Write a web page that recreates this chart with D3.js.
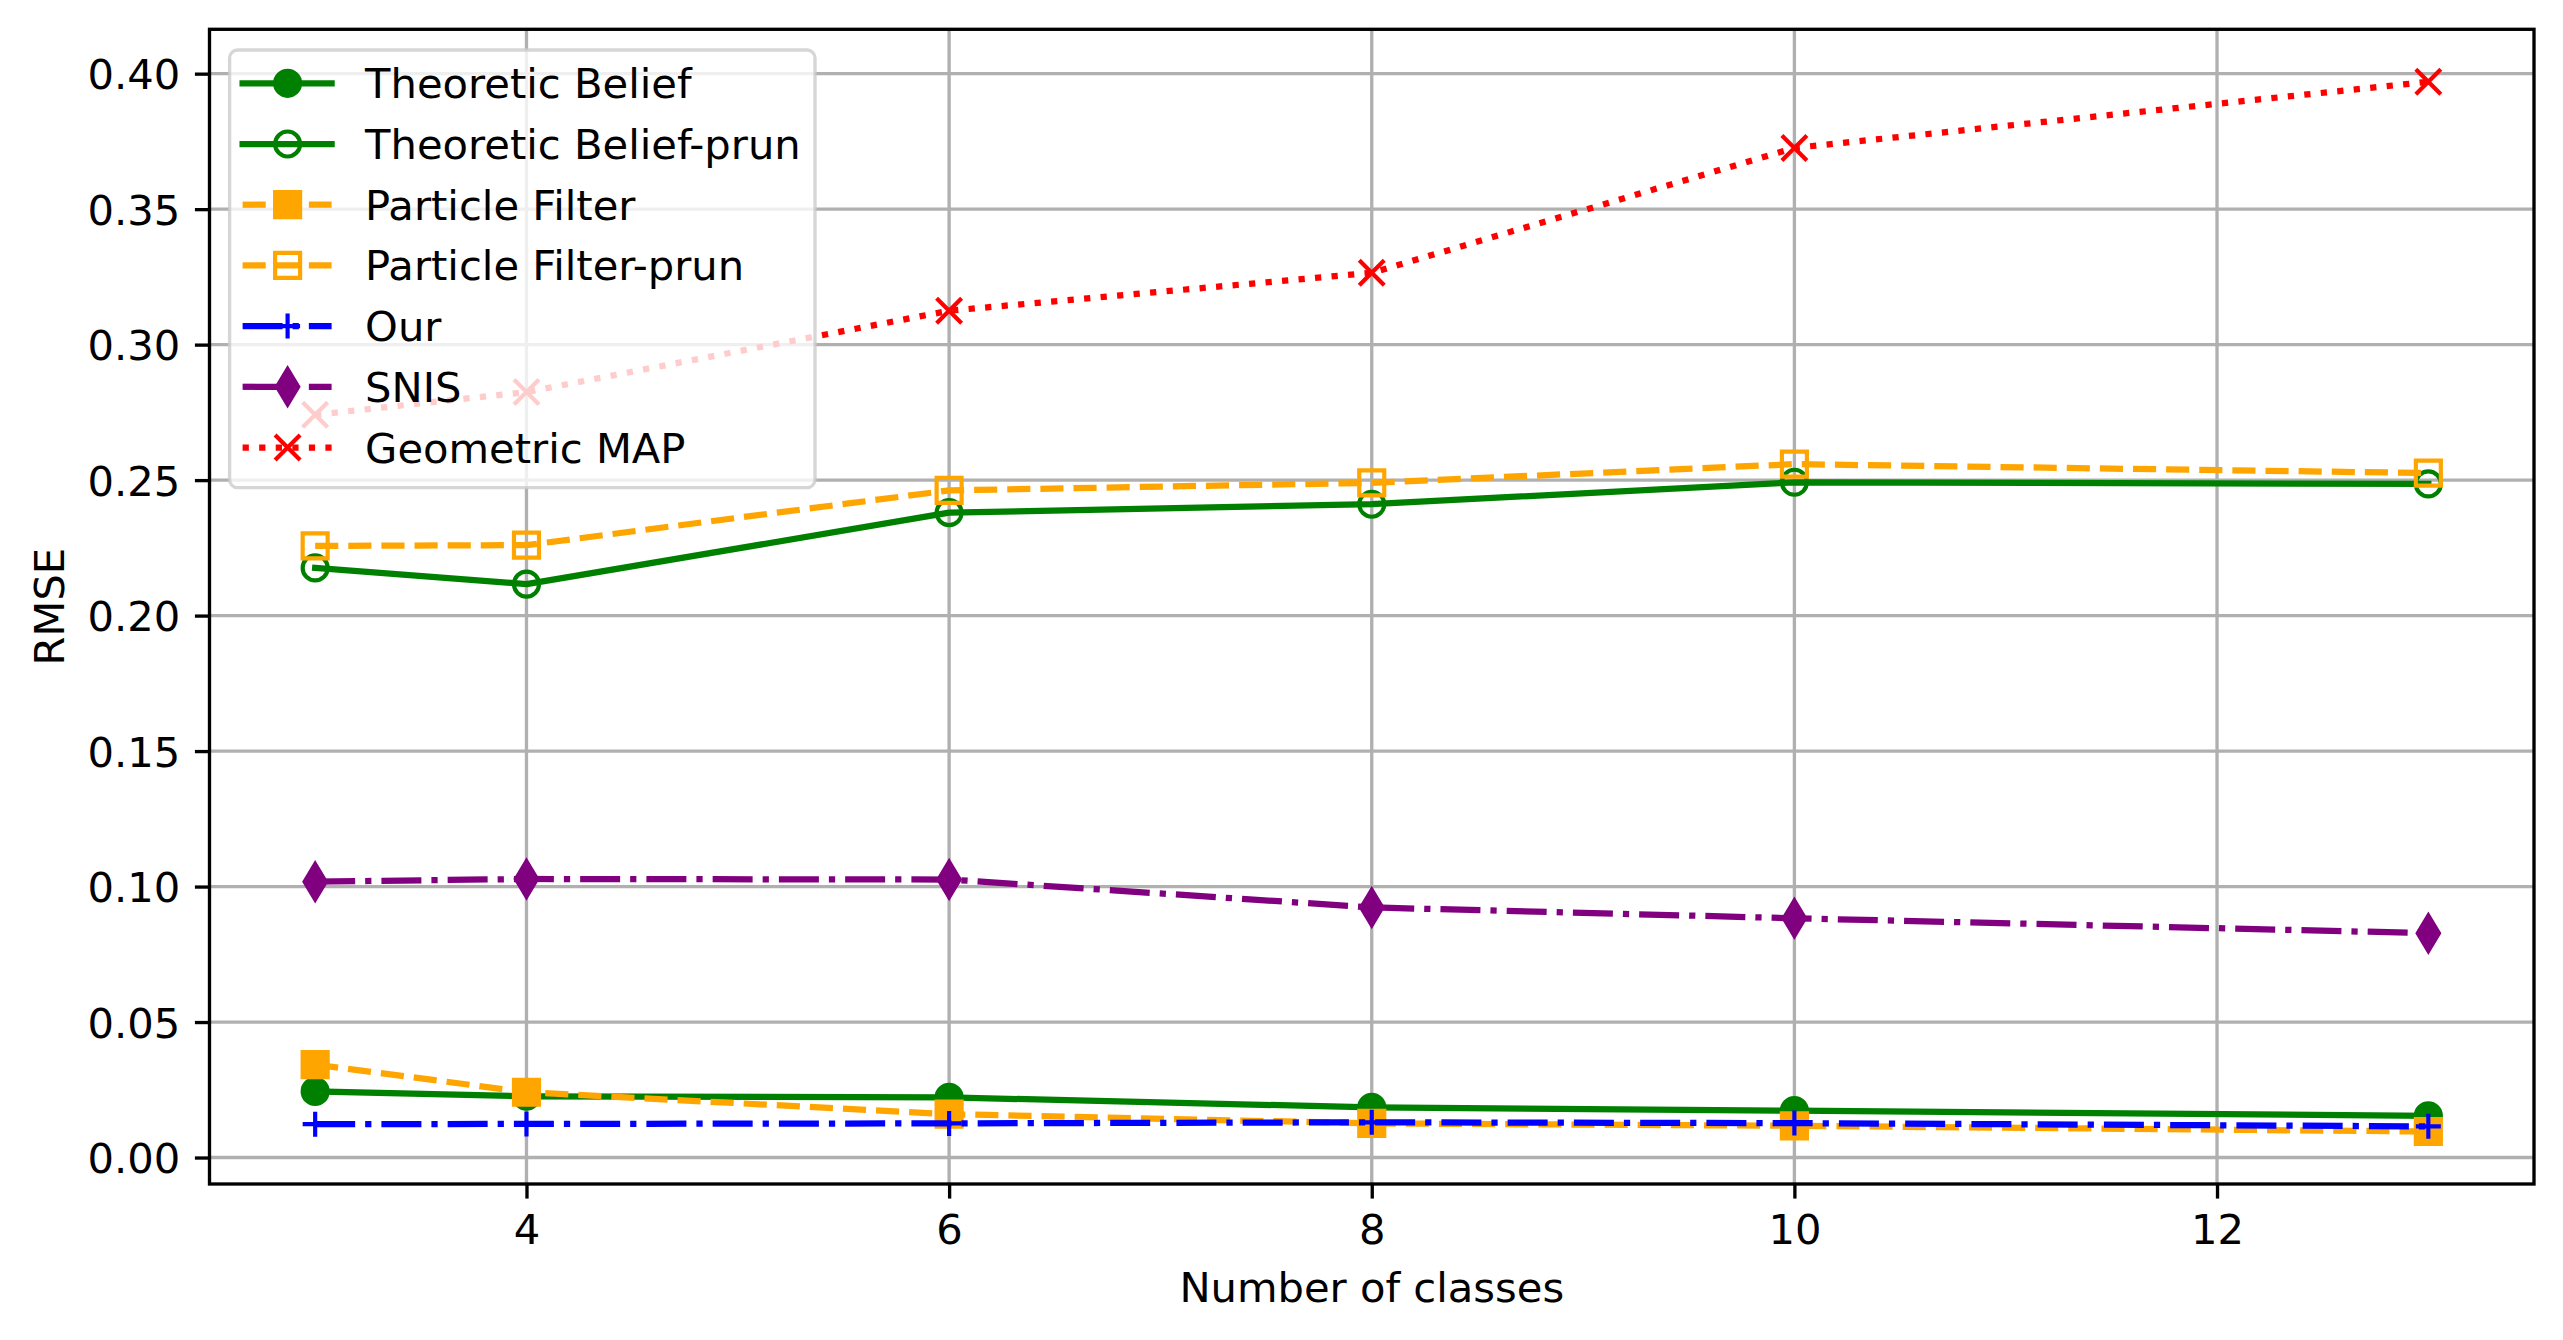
<!DOCTYPE html>
<html>
<head>
<meta charset="utf-8">
<script src="https://cdn.jsdelivr.net/npm/d3@7"></script>
<style>
  body { margin: 0; background: #fff; }
  svg { display: block; }
  text { font-family: "DejaVu Sans", sans-serif; fill: #000; }
</style>
</head>
<body>
<div id="chart"></div>
<script>
// data
const classes = [3, 4, 6, 8, 10, 13];
const theoreticBelief     = [0.0244, 0.0226, 0.0222, 0.0185, 0.0173, 0.0154];
const theoreticBeliefPrun = [0.2176, 0.2116, 0.2380, 0.2411, 0.2492, 0.2486];
const particleFilter      = [0.0343, 0.0241, 0.0160, 0.0126, 0.0117, 0.0096];
const particleFilterPrun  = [0.2257, 0.2260, 0.2462, 0.2490, 0.2559, 0.2526];
const our                 = [0.0123, 0.0124, 0.0126, 0.0130, 0.0127, 0.0115];
const snis                = [0.1018, 0.1028, 0.1026, 0.0923, 0.0883, 0.0828];
const geometricMap        = [0.2741, 0.2825, 0.3125, 0.3265, 0.3726, 0.3970];

const seriesNames = ["Theoretic Belief", "Theoretic Belief-prun", "Particle Filter",
  "Particle Filter-prun", "Our", "SNIS", "Geometric MAP"];
const xTicks = [4, 6, 8, 10, 12];
const yTicks = [0, 0.05, 0.10, 0.15, 0.20, 0.25, 0.30, 0.35, 0.40];

let width = 2563,
    height = 1340,
    margin = ({ top: 29.3, right: 29, bottom: 156, left: 209.5 });

const pt = 300 / 72;          // figure saved at 300 dpi
const lw = 1.5 * pt;          // line width
const ms = 6 * pt;            // marker size
const mew = 1 * pt;           // marker edge width
const fontPx = 10 * pt;

const dashes = {
  solid: null,
  dashed: [3.7, 1.6].map(d => d * lw),
  dashdot: [6.4, 1.6, 1, 1.6].map(d => d * lw),
  dotted: [1, 1.65].map(d => d * lw)
};

// style per series (same order as seriesNames)
const series = [
  { values: theoreticBelief,     color: "green",  dash: "solid",   marker: "o", filled: true },
  { values: theoreticBeliefPrun, color: "green",  dash: "solid",   marker: "o", filled: false },
  { values: particleFilter,      color: "orange", dash: "dashed",  marker: "s", filled: true },
  { values: particleFilterPrun,  color: "orange", dash: "dashed",  marker: "s", filled: false },
  { values: our,                 color: "blue",   dash: "dashdot", marker: "+", filled: true },
  { values: snis,                color: "purple", dash: "dashdot", marker: "d", filled: true },
  { values: geometricMap,        color: "red",    dash: "dotted",  marker: "x", filled: true }
].map((s, i) => ({ ...s, name: seriesNames[i] }));

function markerPath(type, s) {
  const h = s / 2;
  if (type === "o") return d3.symbol(d3.symbolCircle, Math.PI * h * h)();
  if (type === "s") return `M${-h},${-h}H${h}V${h}H${-h}Z`;
  if (type === "+") return `M${-h},0H${h}M0,${-h}V${h}`;
  if (type === "x") return `M${-h},${-h}L${h},${h}M${-h},${h}L${h},${-h}`;
  if (type === "d") {
    const v = s * Math.SQRT1_2;
    return `M0,${-v}L${0.6 * v},0L0,${v}L${-0.6 * v},0Z`;
  }
}

function styleMarker(sel, s) {
  const lineOnly = s.marker === "+" || s.marker === "x";
  sel.attr("d", markerPath(s.marker, ms))
    .attr("fill", lineOnly || !s.filled ? "none" : s.color)
    .attr("stroke", s.color)
    .attr("stroke-width", mew)
    .attr("stroke-linejoin", s.marker === "o" ? "round" : "miter")
    .attr("stroke-linecap", "butt");
}

function styleLine(sel, s) {
  sel.attr("fill", "none")
    .attr("stroke", s.color)
    .attr("stroke-width", lw)
    .attr("stroke-linejoin", "round")
    .attr("stroke-linecap", s.dash === "solid" ? "square" : "butt")
    .attr("stroke-dasharray", dashes[s.dash] ? dashes[s.dash].join(",") : null);
}

const svg = d3.select("#chart")
  .append("svg")
  .attr("width", width)
  .attr("height", height)
  .attr("viewBox", [0, 0, width, height]);

// matplotlib style 5% margins
let allVals = series.flatMap(s => s.values);
let [yMin, yMax] = d3.extent(allVals);
let yPad = (yMax - yMin) * 0.05;
let [xMin, xMax] = d3.extent(classes);
let xPad = (xMax - xMin) * 0.05;

let x = d3.scaleLinear()
  .domain([xMin - xPad, xMax + xPad])
  .range([margin.left, width - margin.right]);

let y = d3.scaleLinear()
  .domain([yMin - yPad, yMax + yPad])
  .range([height - margin.bottom, margin.top]);

const gridW = 0.8 * pt;

// grid first
svg.append("g")
  .selectAll("line.gx")
  .data(xTicks)
  .join("line")
  .attr("x1", d => x(d)).attr("x2", d => x(d))
  .attr("y1", margin.top).attr("y2", height - margin.bottom)
  .attr("stroke", "#b0b0b0").attr("stroke-width", gridW);

svg.append("g")
  .selectAll("line.gy")
  .data(yTicks)
  .join("line")
  .attr("y1", d => y(d)).attr("y2", d => y(d))
  .attr("x1", margin.left).attr("x2", width - margin.right)
  .attr("stroke", "#b0b0b0").attr("stroke-width", gridW);

let line = d3.line()
  .x((d, i) => x(classes[i]))
  .y(d => y(d));

// series: line then markers, in plot order
for (let s of series) {
  let g = svg.append("g").attr("class", "series");
  g.append("path")
    .datum(s.values)
    .attr("d", line)
    .call(styleLine, s);
  g.selectAll("path.mk")
    .data(s.values)
    .join("path")
    .attr("class", "mk")
    .attr("transform", (d, i) => `translate(${x(classes[i])},${y(d)})`)
    .call(styleMarker, s);
}

// axes (spines sit above the lines)
const tickLen = 3.5 * pt;
const tickPad = 3.5 * pt;

svg.append("g")
  .attr("transform", `translate(0,${height - margin.bottom})`)
  .call(d3.axisBottom(x).tickValues(xTicks).tickSize(tickLen).tickPadding(tickPad).tickSizeOuter(0))
  .call(g => g.select(".domain").remove())
  .call(g => g.selectAll(".tick line").attr("stroke", "#000").attr("stroke-width", gridW))
  .call(g => g.selectAll(".tick text")
    .attr("font-size", fontPx)
    .attr("font-family", "DejaVu Sans")
    .attr("dy", null)
    .attr("y", tickLen + tickPad + 0.729 * fontPx + 0.5));

svg.append("g")
  .attr("transform", `translate(${margin.left},0)`)
  .call(d3.axisLeft(y).tickValues(yTicks).tickFormat(d3.format(".2f"))
    .tickSize(tickLen).tickPadding(tickPad).tickSizeOuter(0))
  .call(g => g.select(".domain").remove())
  .call(g => g.selectAll(".tick line").attr("stroke", "#000").attr("stroke-width", gridW))
  .call(g => g.selectAll(".tick text")
    .attr("font-size", fontPx)
    .attr("font-family", "DejaVu Sans")
    .attr("dy", "0.36em"));

// frame
svg.append("rect")
  .attr("x", margin.left)
  .attr("y", margin.top)
  .attr("width", width - margin.left - margin.right)
  .attr("height", height - margin.top - margin.bottom)
  .attr("fill", "none")
  .attr("stroke", "#000")
  .attr("stroke-width", gridW)
  .attr("stroke-linejoin", "miter");

// axis labels
svg.append("text")
  .attr("x", (margin.left + width - margin.right) / 2)
  .attr("y", 1301.5)
  .attr("text-anchor", "middle")
  .attr("font-size", fontPx)
  .text("Number of classes");

svg.append("text")
  .attr("transform", `translate(64,${(margin.top + height - margin.bottom) / 2}) rotate(-90)`)
  .attr("text-anchor", "middle")
  .attr("font-size", fontPx)
  .text("RMSE");

// legend, upper left
const legend = svg.append("g").attr("transform", "translate(229.6,50)");

legend.append("rect")
  .attr("width", 585.4)
  .attr("height", 437.7)
  .attr("rx", 8)
  .attr("fill", "#fff")
  .attr("fill-opacity", 0.8)
  .attr("stroke", "#cccccc")
  .attr("stroke-opacity", 0.8)
  .attr("stroke-width", gridW);

const rowStep = 60.7;
series.forEach((s, i) => {
  let row = legend.append("g")
    .attr("transform", `translate(0,${33.3 + i * rowStep})`);
  row.append("path")
    .attr("d", "M13,0H102")
    .call(styleLine, s);
  row.append("path")
    .attr("transform", "translate(58,0)")
    .call(styleMarker, s);
  row.append("text")
    .attr("x", 135.5)
    .attr("dy", "0.36em")
    .attr("font-size", fontPx)
    .text(s.name);
});
</script>
</body>
</html>
